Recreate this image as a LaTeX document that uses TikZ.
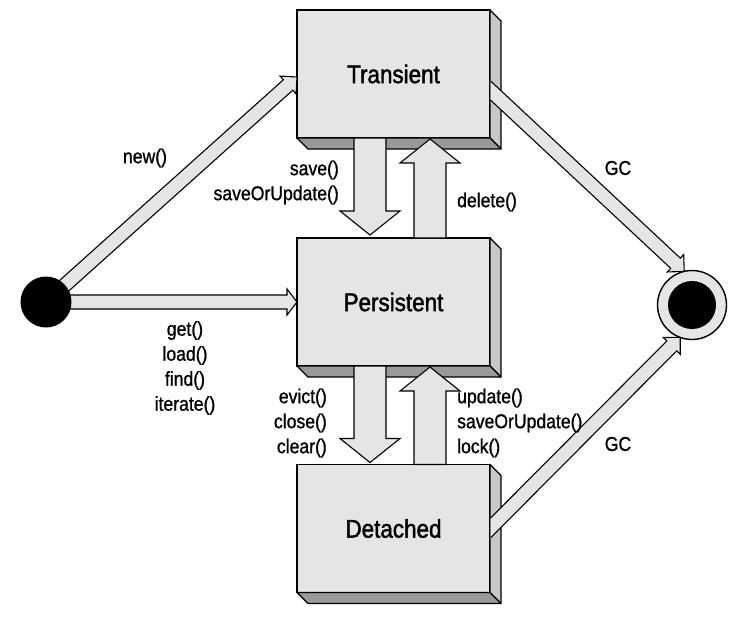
\documentclass[tikz,border=0pt]{standalone}
\usepackage{fontspec}
\setmainfont{Liberation Sans}[FakeStretch=0.88,FakeBold=1]
\newfontfamily\titlefont{Liberation Sans}[FakeStretch=0.88,FakeBold=1.6]
\usepackage{tikz}
\usetikzlibrary{positioning,calc}

\pgfdeclarelayer{front}
\pgfsetlayers{main,front}

\colorlet{facegray}{black!10}
\colorlet{sidegray}{black!22}
\colorlet{basegray}{black!40}

% hollow block arrow: from, to, half shaft, half head, head length
\newcommand{\blockarrow}[5]{%
	\coordinate (hb) at ($(#2)!#5!(#1)$);
	\draw[arrowbody] ($(#1)!#3!90:(#2)$) -- ($(hb)!#3!90:(#2)$) -- ($(hb)!#4!90:(#2)$) -- (#2)
	-- ($(hb)!#4!-90:(#2)$) -- ($(hb)!#3!-90:(#2)$) -- ($(#1)!#3!-90:(#2)$) -- cycle;
}

\begin{document}
\begin{tikzpicture}[
						x=1pt, y=-1pt,
						state/.style={draw, line width=1.4pt, fill=facegray, minimum width=193pt, minimum height=128pt, inner sep=0pt, outer sep=0pt, font=\titlefont\fontsize{25.5}{30}\selectfont},
						panel/.style={draw, line width=1.2pt, line join=round},
						arrowbody/.style={draw, line width=1.1pt, fill=facegray, line join=miter},
						lbl/.style={font=\fontsize{20}{25}\selectfont, inner sep=0pt}
						]
						\useasboundingbox (0,0) rectangle (751,618);
						
						% Các trạng thái: hộp nổi có mặt bên và mặt đáy
						\foreach \name/\txt/\yy in {trans/Transient/74, pers/Persistent/302, det/Detached/528.5} {
							\node[state] (\name) at (393.5,\yy) {\txt};
							\filldraw[panel, fill=sidegray] (\name.north east) -- ++(11pt,-11pt) -- ($(\name.south east)+(11pt,-11pt)$) -- (\name.south east) -- cycle;
							\filldraw[panel, fill=basegray] (\name.south west) -- ++(11pt,-11pt) -- ($(\name.south east)+(11pt,-11pt)$) -- (\name.south east) -- cycle;
						}
						
						% Điểm đầu và điểm cuối (lớp trên cùng)
						\begin{pgfonlayer}{front}
							\node[circle, fill=black, minimum size=51pt, inner sep=0pt] (init) at (46,302) {};
							\node[circle, draw, line width=1.4pt, fill=facegray, minimum size=69pt, inner sep=0pt, outer sep=0pt] (final) at (692,305) {};
							\node[circle, fill=black, minimum size=48pt, inner sep=0pt] (finaldot) at (final.center) {};
						\end{pgfonlayer}
						
						% Đầu mút của các mũi tên
						\coordinate (savefrom) at ($(trans.south)+(-23.5pt,0)$);
						\coordinate (saveto) at ($(pers.north)+(-23.5pt,3pt)$);
						\coordinate (delfrom) at ($(pers.north)+(36.5pt,0)$);
						\coordinate (delto) at ($(trans.south)+(36.5pt,-1pt)$);
						\coordinate (evictfrom) at ($(pers.south)+(-23.5pt,0)$);
						\coordinate (evictto) at ($(det.north)+(-23.5pt,2pt)$);
						\coordinate (updfrom) at ($(det.north)+(36.5pt,0)$);
						\coordinate (updto) at ($(pers.south)+(36.5pt,-1pt)$);
						\coordinate (newto) at ($(trans.west)+(0,-3pt)$);
						\coordinate (gcfrom) at ($($(trans.east)+(0,-16pt)$)!-20pt!(final.103)$);
						\coordinate (gcfrom2) at ($(det.east)!-20pt!(final.250)$);
						
						% Chuyển trạng thái
						\blockarrow{init.center}{newto}{7pt}{12pt}{12pt}
						\blockarrow{init.center}{pers.west}{7pt}{13pt}{10pt}
						\blockarrow{savefrom}{saveto}{16pt}{30pt}{24pt}
						\blockarrow{delfrom}{delto}{16pt}{30pt}{24pt}
						\blockarrow{evictfrom}{evictto}{16pt}{30pt}{24pt}
						\blockarrow{updfrom}{updto}{16pt}{30pt}{24pt}
						% GC: cắt phần nằm trong mặt trước của hộp
						\begin{scope}
							\clip ($(trans.north east)+(0.7pt,0)$) rectangle (751,618);
							\blockarrow{gcfrom}{final.103}{7pt}{12pt}{12pt}
							\blockarrow{gcfrom2}{final.250}{7pt}{12pt}{12pt}
						\end{scope}
						
						% Nhãn
						\node[lbl] (newlbl) at (145,158) {new()};
						\node[lbl, align=right, anchor=east] (savelbl) at (339,182.5) {save()\\saveOrUpdate()};
						\node[lbl, anchor=west] (deletelbl) at (457,202) {delete()};
						\node[lbl, align=center] (getlbl) at (185,368) {get()\\load()\\find()\\iterate()};
						\node[lbl, align=right, anchor=east] (evictlbl) at (327,423) {evict()\\close()\\clear()};
						\node[lbl, align=left, anchor=west] (updlbl) at (457,423) {update()\\saveOrUpdate()\\lock()};
						\node[lbl] (gcup) at (618,168) {GC};
						\node[lbl] (gcdown) at (618,444) {GC};
					\end{tikzpicture}
\end{document}
